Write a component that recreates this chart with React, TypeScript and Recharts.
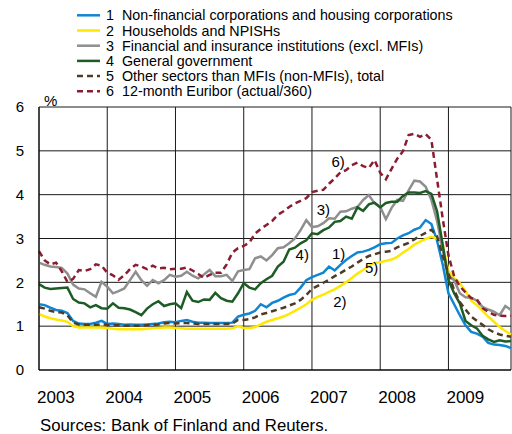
import React from 'react';
import { LineChart, Line, XAxis, YAxis, CartesianGrid, ReferenceDot } from 'recharts';

// monthly observations, Jan 2003 .. Dec 2009
const yearLabels = ['2003', '2004', '2005', '2006', '2007', '2008', '2009'];
const yearTicks = [0, 12, 24, 36, 48, 60, 72];
const valueTicks = [0, 1, 2, 3, 4, 5, 6];

const nonFinancial = [
  1.50, 1.48, 1.42, 1.37, 1.35, 1.30, 1.12, 1.06, 1.05, 1.05, 1.08, 1.12,
  1.05, 1.06, 1.05, 1.03, 1.04, 1.03, 1.03, 1.04, 1.05, 1.06, 1.09, 1.10,
  1.09, 1.12, 1.14, 1.10, 1.08, 1.08, 1.07, 1.07, 1.07, 1.07, 1.08, 1.22,
  1.26, 1.29, 1.35, 1.50, 1.43, 1.53, 1.58, 1.65, 1.71, 1.74, 1.88, 2.05,
  2.12, 2.17, 2.22, 2.36, 2.27, 2.40, 2.51, 2.60, 2.68, 2.70, 2.74, 2.80,
  2.87, 2.89, 2.90, 3.00, 3.07, 3.12, 3.20, 3.25, 3.42, 3.33, 2.95, 2.40,
  1.75, 1.50, 1.25, 1.02, 0.87, 0.83, 0.76, 0.62, 0.58, 0.57, 0.55, 0.50,
];
const households = [
  1.28, 1.22, 1.18, 1.15, 1.13, 1.10, 1.00, 0.97, 0.97, 0.97, 0.97, 0.97,
  0.96, 0.94, 0.93, 0.93, 0.93, 0.93, 0.93, 0.94, 0.95, 0.96, 0.97, 0.97,
  0.96, 0.95, 0.94, 0.94, 0.94, 0.94, 0.94, 0.94, 0.94, 0.94, 0.95, 1.00,
  0.96, 0.96, 0.98, 1.04, 1.10, 1.14, 1.18, 1.22, 1.28, 1.35, 1.42, 1.50,
  1.60, 1.67, 1.72, 1.78, 1.84, 1.92, 2.00, 2.10, 2.20, 2.28, 2.38, 2.45,
  2.46, 2.49, 2.52, 2.58, 2.68, 2.76, 2.86, 2.93, 2.99, 3.04, 3.00, 2.85,
  2.25, 2.10, 1.98, 1.80, 1.58, 1.48, 1.35, 1.22, 1.10, 0.98, 0.89, 0.81,
];
const financial = [
  2.45, 2.40, 2.36, 2.35, 2.33, 2.20, 1.95, 1.86, 1.84, 1.75, 1.67, 2.01,
  1.90, 1.75, 1.80, 1.86, 2.05, 2.24, 2.05, 1.92, 2.05, 1.98, 2.05, 2.17,
  2.13, 2.15, 2.24, 2.15, 2.09, 2.18, 2.28, 2.14, 2.14, 2.17, 2.03, 2.25,
  2.28, 2.30, 2.55, 2.59, 2.50, 2.62, 2.78, 2.80, 2.89, 3.00, 3.19, 3.42,
  3.26, 3.28, 3.35, 3.46, 3.45, 3.61, 3.62, 3.68, 3.72, 3.88, 3.99, 3.80,
  3.72, 3.44, 3.70, 3.88, 3.86, 4.10, 4.32, 4.30, 4.18, 3.88, 3.40, 2.74,
  2.15, 2.05, 1.75, 1.66, 1.65, 1.58, 1.44, 1.38, 1.33, 1.25, 1.46, 1.37,
];
const government = [
  1.96, 1.88, 1.85, 1.86, 1.87, 1.88, 1.62, 1.54, 1.52, 1.43, 1.48, 1.41,
  1.40, 1.52, 1.42, 1.41, 1.38, 1.32, 1.25, 1.40, 1.50, 1.57, 1.46, 1.50,
  1.52, 1.41, 1.78, 1.58, 1.55, 1.61, 1.60, 1.76, 1.64, 1.58, 1.56, 1.75,
  1.98, 1.88, 1.84, 1.98, 2.07, 2.15, 2.36, 2.47, 2.75, 2.79, 2.89, 2.96,
  3.12, 3.10, 3.19, 3.25, 3.38, 3.40, 3.50, 3.45, 3.71, 3.63, 3.78, 3.82,
  3.71, 3.81, 3.84, 3.84, 3.97, 4.05, 4.05, 4.04, 4.08, 4.02, 3.62, 2.85,
  2.05, 1.75, 1.52, 1.12, 1.02, 0.95, 0.78, 0.70, 0.64, 0.68, 0.65, 0.66,
];
const nonMfiTotal = [
  1.43, 1.40, 1.35, 1.32, 1.31, 1.25, 1.08, 1.04, 1.03, 1.03, 1.03, 1.04,
  1.03, 1.02, 1.02, 1.01, 1.01, 1.01, 1.01, 1.02, 1.03, 1.04, 1.06, 1.07,
  1.06, 1.07, 1.07, 1.06, 1.05, 1.05, 1.05, 1.05, 1.05, 1.05, 1.06, 1.14,
  1.14, 1.16, 1.20, 1.27, 1.30, 1.34, 1.38, 1.42, 1.47, 1.52, 1.60, 1.71,
  1.85, 1.92, 1.99, 2.06, 2.14, 2.21, 2.29, 2.36, 2.45, 2.53, 2.60, 2.64,
  2.68, 2.70, 2.72, 2.80, 2.85, 2.90, 2.98, 3.06, 3.13, 3.20, 3.05, 2.60,
  2.20, 1.82, 1.55, 1.38, 1.22, 1.12, 1.03, 0.93, 0.86, 0.81, 0.78, 0.76,
];
const euribor = [
  2.71, 2.50, 2.41, 2.45, 2.25, 2.01, 2.08, 2.28, 2.26, 2.30, 2.41, 2.38,
  2.22, 2.16, 2.06, 2.16, 2.30, 2.40, 2.36, 2.30, 2.38, 2.32, 2.33, 2.30,
  2.31, 2.31, 2.34, 2.27, 2.19, 2.10, 2.17, 2.22, 2.22, 2.41, 2.68, 2.78,
  2.83, 2.91, 3.11, 3.22, 3.31, 3.40, 3.54, 3.62, 3.72, 3.80, 3.86, 3.92,
  4.06, 4.09, 4.11, 4.25, 4.37, 4.51, 4.56, 4.67, 4.73, 4.65, 4.61, 4.79,
  4.50, 4.35, 4.59, 4.82, 4.99, 5.36, 5.39, 5.32, 5.38, 5.25, 4.35, 3.45,
  2.62, 2.14, 1.91, 1.77, 1.64, 1.61, 1.41, 1.33, 1.26, 1.24, 1.23, 1.24,
];

const seriesNames = [
  'Non-financial corporations and housing corporations',
  'Households and NPISHs',
  'Financial and insurance institutions (excl. MFIs)',
  'General government',
  'Other sectors than MFIs (non-MFIs), total',
  '12-month Euribor (actual/360)',
];

// in-chart callouts: text, month, value
const lineLabels = [
  { text: '6)', month: 52.6, value: 4.76 },
  { text: '3)', month: 50.0, value: 3.66 },
  { text: '4)', month: 46.3, value: 2.64 },
  { text: '1)', month: 52.7, value: 2.66 },
  { text: '5)', month: 58.5, value: 2.34 },
  { text: '2)', month: 52.9, value: 1.56 },
];

const FONT = '"Liberation Sans", Arial, sans-serif';

const series = [
  { key: 's1', color: '#0f86d3', dash: undefined, values: nonFinancial },
  { key: 's2', color: '#ffe800', dash: undefined, values: households },
  { key: 's3', color: '#8f8f8f', dash: undefined, values: financial },
  { key: 's4', color: '#1d5c25', dash: undefined, values: government },
  { key: 's5', color: '#4f3c26', dash: '6 4', values: nonMfiTotal },
  { key: 's6', color: '#8a1d2f', dash: '6 4', values: euribor },
];

const data = euribor.map((_, i) => {
  const row: any = { month: i };
  series.forEach(s => { row[s.key] = s.values[i]; });
  return row;
});

const YearTick = ({ x, y, payload }: any) => (
  <text x={x - 2} y={y + 31} fontSize={17} fontFamily={FONT} fill="#000" textAnchor="start">
    {yearLabels[yearTicks.indexOf(payload.value)]}
  </text>
);

export default function App() {
  return (
    <div style={{ position: 'absolute', left: 0, top: 0, width: 512, height: 434, background: '#fff' }}>
      <LineChart width={512} height={434} data={data} margin={{ top: 107, right: 1, left: 0, bottom: 0 }}>
        <CartesianGrid stroke="#1a1a1a" strokeWidth={1} />
        <XAxis
          dataKey="month"
          type="number"
          domain={[0, 83]}
          ticks={yearTicks}
          height={64}
          axisLine={{ stroke: '#000' }}
          tickLine={false}
          tickSize={0}
          tick={<YearTick />}
          interval={0}
        />
        <YAxis
          domain={[0, 6]}
          ticks={valueTicks}
          width={39}
          axisLine={{ stroke: '#000' }}
          tickLine={false}
          tickSize={0}
          tickMargin={15}
          tick={{ fontSize: 15, fill: '#000', fontFamily: FONT }}
          interval={0}
        />
        {series.map(s => (
          <Line
            key={s.key}
            type="linear"
            dataKey={s.key}
            stroke={s.color}
            strokeWidth={2.5}
            strokeDasharray={s.dash}
            dot={false}
            activeDot={false}
            isAnimationActive={false}
          />
        ))}
        {lineLabels.map(l => (
          <ReferenceDot
            key={l.text}
            x={l.month}
            y={l.value}
            r={0}
            fill="none"
            stroke="none"
            label={{ value: l.text, position: 'center', fontSize: 15, fill: '#000', fontFamily: FONT }}
          />
        ))}
      </LineChart>
      <svg width={512} height={434} style={{ position: 'absolute', left: 0, top: 0, pointerEvents: 'none' }}>
        {series.map((s, i) => {
          const cy = 15.3 + i * 15.2;
          return (
            <g key={s.key} fontFamily={FONT} fontSize={14.3} fill="#000">
              <line x1={77} x2={100} y1={cy} y2={cy} stroke={s.color} strokeWidth={2.5} strokeDasharray={s.dash} />
              <text x={106} y={cy + 5}>{i + 1}</text>
              <text x={122} y={cy + 5}>{seriesNames[i]}</text>
            </g>
          );
        })}
        <text x={44} y={106} fontFamily={FONT} fontSize={15} fill="#000">%</text>
        <text x={40} y={431} fontFamily={FONT} fontSize={16.8} fill="#000">Sources: Bank of Finland and Reuters.</text>
      </svg>
    </div>
  );
}
